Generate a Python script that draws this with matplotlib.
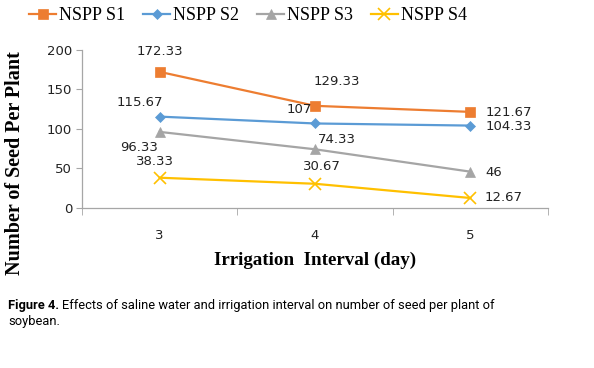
import matplotlib
matplotlib.use("Agg")
import matplotlib.pyplot as plt

intervals = [3, 4, 5]
interval_labels = ["3", "4", "5"]
series_names = ["NSPP S1", "NSPP S2", "NSPP S3", "NSPP S4"]
s1 = [172.33, 129.33, 121.67]
s2 = [115.67, 107, 104.33]
s3 = [96.33, 74.33, 46]
s4 = [38.33, 30.67, 12.67]
y_ticks = [0, 50, 100, 150, 200]

colors = ["#ED7D31", "#5B9BD5", "#A5A5A5", "#FFC000"]
markers = ["s", "D", "^", "x"]
msizes = [6.5, 5, 7, 8]

# label offsets in pixels (dx, dy up) and alignment, per series per point
label_pos = [
    [(0, 20, "center"), (22, 24, "center"), (15, -1, "left")],
    [(-20, 14, "center"), (-3, 14, "right"), (15, -1, "left")],
    [(-21, -16, "center"), (22, 10, "center"), (15, -1, "left")],
    [(-5, 16, "center"), (7, 17, "center"), (14, 0, "left")],
]

PX = 0.72  # pixel -> point at dpi 100

fig = plt.figure(figsize=(5.94, 3.68), dpi=100)
ax = fig.add_axes([82 / 594, 1 - 208 / 368, (548 - 82) / 594, (208 - 50) / 368])

handles = []
for vals, name, c, m, ms, pos in zip([s1, s2, s3, s4], series_names, colors,
                                     markers, msizes, label_pos):
    (h,) = ax.plot(intervals, vals, color=c, lw=1.6, marker=m, markersize=ms,
                   markeredgewidth=1.2 if m == "x" else 0.5, label=name)
    handles.append(h)
    for x, v, (dx, dy, ha) in zip(intervals, vals, pos):
        ax.annotate(f"{v:g}", (x, v), xytext=(dx * PX, dy * PX),
                    textcoords="offset points", ha=ha, va="center",
                    fontsize=9.5, color="#222222")

ax.set_xlim(2.5, 5.5)
ax.set_ylim(0, 200)
ax.set_yticks(y_ticks)
ax.set_xticks(intervals)
ax.set_xticklabels(interval_labels)
ax.set_xticks([2.5, 3.5, 4.5, 5.5], minor=True)
ax.tick_params(axis="x", which="major", length=0, pad=15, labelsize=9.5,
               labelcolor="#222222")
ax.tick_params(axis="x", which="minor", length=5, color="#A6A6A6")
ax.tick_params(axis="y", length=4, color="#A6A6A6", labelsize=9.5,
               labelcolor="#222222", pad=3)
for side in ["top", "right"]:
    ax.spines[side].set_visible(False)
for side in ["left", "bottom"]:
    ax.spines[side].set_color("#A6A6A6")
    ax.spines[side].set_linewidth(0.9)

ax.set_xlabel("Irrigation  Interval (day)", family="Liberation Serif",
              fontweight="bold", fontsize=13.7, labelpad=7)
fig.text(15 / 594, 1 - 163 / 368, "Number of Seed Per Plant",
         family="Liberation Serif", fontweight="bold", fontsize=14.5,
         rotation=90, ha="center", va="center")

fig.legend(handles=handles, loc="center", bbox_to_anchor=(248 / 594, 1 - 16 / 368),
           ncol=4, frameon=False, prop={"family": "Liberation Serif", "size": 13},
           handlelength=1.5, handletextpad=0.15, columnspacing=1.0,
           borderaxespad=0)

# caption: condensed sans in the original, fit line width to the reference
cap_font = "Roboto"
cap_rest = "Effects of saline water and irrigation interval on number of seed per plant of"
size = 11
renderer = fig.canvas.get_renderer()
t1 = fig.text(8 / 594, 1 - 305 / 368, "Figure 4.", family=cap_font,
              fontweight="bold", fontsize=size, ha="left", va="center")
t2 = fig.text(0, 1 - 305 / 368, cap_rest, family=cap_font, fontsize=size,
              ha="left", va="center")
w = (t1.get_window_extent(renderer).width + 4
     + t2.get_window_extent(renderer).width)
size = size * 484 / w
t1.set_fontsize(size)
t2.set_fontsize(size)
bb = t1.get_window_extent(renderer)
t2.set_x((bb.x1 + 3) / 594)
fig.text(8 / 594, 1 - 322 / 368, "soybean.", family=cap_font, fontsize=size,
         ha="left", va="center")

fig.savefig("out.png", dpi=100)
